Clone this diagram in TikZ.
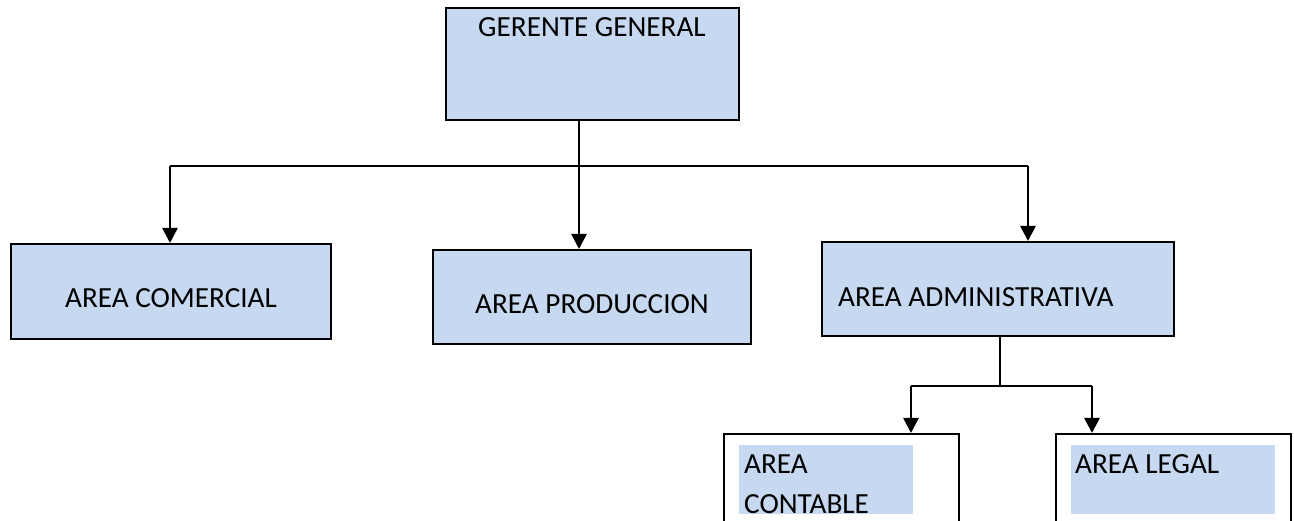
\documentclass[tikz,border=0pt]{standalone}
\usepackage{fontspec}
\setmainfont{Carlito}
\usetikzlibrary{arrows.meta}
\definecolor{boxblue}{HTML}{C6D9F1}
\begin{document}
\begin{tikzpicture}[x=1pt,y=-1pt,
  box/.style={draw=black,line width=2pt,fill=boxblue,rectangle,inner sep=0pt},
  outer/.style={draw=black,line width=1.8pt,fill=white,rectangle,inner sep=0pt},
  inner/.style={fill=boxblue,rectangle,inner sep=0pt},
  lbl/.style={font=\fontsize{29.2}{40}\selectfont,inner sep=0pt},
  conn/.style={line width=2.6pt,-{Triangle[width=15pt,length=15pt]}},
  bar/.style={line width=1.4pt}]
\useasboundingbox (0,0) rectangle (1294,521);
\clip (0,0) rectangle (1294,521);
% boxes
\node[box,minimum width=293pt,minimum height=112pt] (g) at (592.5,64) {};
\node[lbl] (gt) at (592,27) {GERENTE GENERAL};
\node[box,minimum width=320pt,minimum height=95pt] (c) at (171,291.5) {};
\node[lbl] (ct) at (171,298) {AREA COMERCIAL};
\node[box,minimum width=318pt,minimum height=94pt] (p) at (592,297) {};
\node[lbl] (pt) at (592,304) {AREA PRODUCCION};
\node[box,minimum width=352pt,minimum height=94pt] (a) at (998,289) {};
\node[lbl,anchor=west] (at) at (838,297) {AREA ADMINISTRATIVA};
\node[outer,minimum width=235pt,minimum height=110pt,anchor=north west] (k) at (723,433) {};
\node[inner,minimum width=174pt,minimum height=69pt,anchor=north west] (ki) at (739,445) {};
\node[lbl,anchor=west] (kt1) at (744,464) {AREA};
\node[lbl,anchor=west] (kt2) at (744,504) {CONTABLE};
\node[outer,minimum width=235pt,minimum height=110pt,anchor=north west] (l) at (1055,433) {};
\node[inner,minimum width=204pt,minimum height=69pt,anchor=north west] (li) at (1071,445) {};
\node[lbl,anchor=west] (lt) at (1075,464) {AREA LEGAL};
% connectors
\coordinate (gx) at (579,0);
\coordinate (hl) at (170,166);
\coordinate (hr) at (1028,166);
\coordinate (ax) at (1000,0);
\coordinate (kx) at (911,386);
\coordinate (lx) at (1092,386);
\draw[bar] (hl) -- (hr);
\draw[conn] (gx |- g.south) -- (gx |- p.north);
\draw[conn] (hl) -- (hl |- c.north);
\draw[conn] (hr) -- (hr |- a.north);
\draw[line width=2.6pt] (ax |- a.south) -- (ax |- kx);
\draw[line width=2.6pt] (kx) -- (lx);
\draw[conn] (kx) -- (kx |- k.north);
\draw[conn] (lx) -- (lx |- l.north);
\end{tikzpicture}
\end{document}
